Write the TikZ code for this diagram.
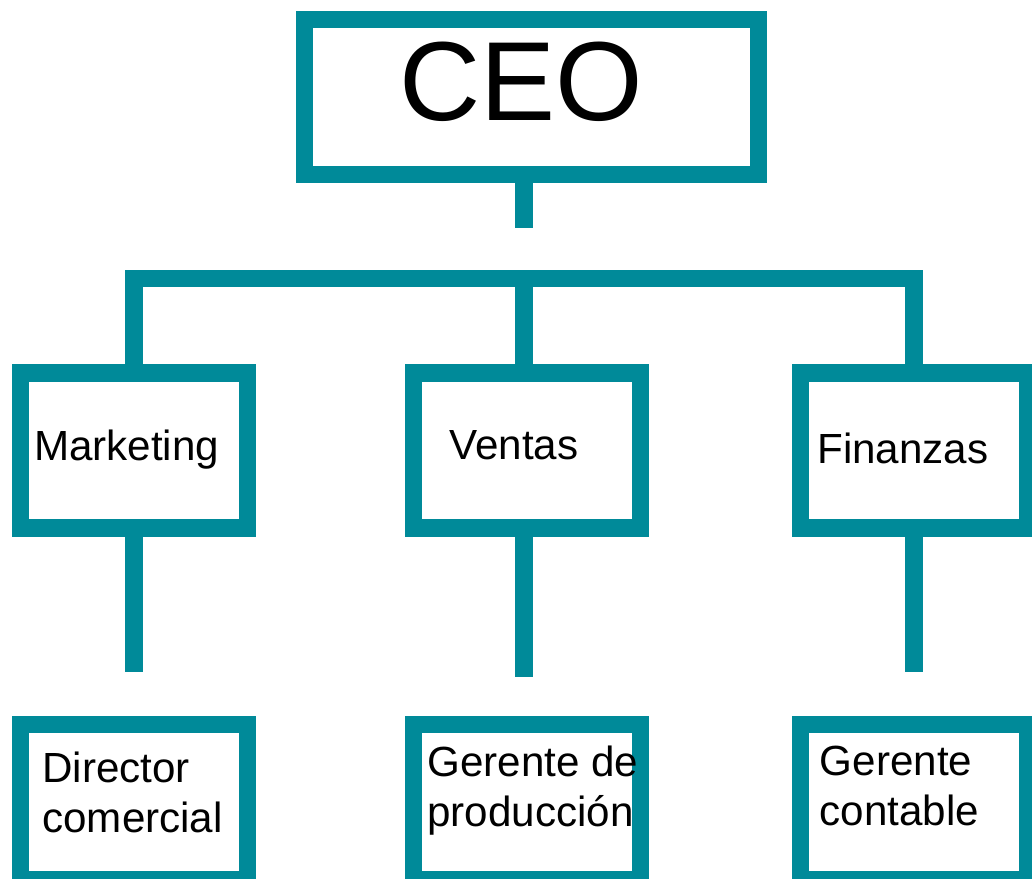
\documentclass[tikz,border=0pt]{standalone}
\usepackage{fontspec}
\setmainfont{Liberation Sans}
\usetikzlibrary{positioning,calc}
\definecolor{orgteal}{RGB}{0,138,153}

\tikzset{
	unit/.style={draw=orgteal, line width=0.35cm, minimum width=4.54cm, minimum height=3.1cm, inner sep=0pt},
	ceobox/.style={unit, minimum width=9.09cm},
	link/.style={draw=orgteal, line width=0.35cm},
	unittext/.style={font=\fontsize{24}{28.35}\selectfont, inner sep=0pt, anchor=base west, align=left}
}

\begin{document}
\begin{tikzpicture}[x=0.02cm, y=-0.02cm]
	\useasboundingbox (0,0) rectangle (1032,879);
	\clip (0,0) rectangle (1032,879);

	% ---------------------
	% Boxes
	\node[ceobox] (CEO) at (531.5,97.0) {};

	\node[unit] (Marketing) at (133.8,450.3) {};
	\node[unit] (Ventas)    at (527.0,450.3) {};
	\node[unit] (Finanzas)  at (914.0,450.3) {};

	\node[unit] (Director)   at (133.8,801.8) {};
	\node[unit] (Produccion) at (527.0,801.8) {};
	\node[unit] (Contable)   at (914.0,801.8) {};

	% ---------------------
	% Connectors
	\coordinate (CEOStub) at (524.0,227.7);
	\draw[link] (CEO.south -| CEOStub) -- (CEOStub);

	\coordinate (Bar) at (524.0,278.7);
	\draw[link] (Marketing.north) |- (Bar) -| (Finanzas.north);
	\draw[link] (Bar) -- (Ventas.north -| Bar);

	\coordinate (MarketingStub) at (133.8,671.7);
	\coordinate (VentasStub)    at (524.0,677.3);
	\coordinate (FinanzasStub)  at (914.0,671.7);
	\draw[link] (Marketing.south) -- (MarketingStub);
	\draw[link] (Ventas.south -| VentasStub) -- (VentasStub);
	\draw[link] (Finanzas.south) -- (FinanzasStub);

	% ---------------------
	% Texts (base = last line)
	\node[unittext, font=\fontsize{64}{77}\selectfont, anchor=base] (CEOText) at (521.5,120.0) {CEO};

	\node[unittext] (MarketingText) at (33.7,460.0) {Marketing};
	\node[unittext] (VentasText)    at (449.0,459.3) {Ventas};
	\node[unittext] (FinanzasText)  at (817.0,463.3) {Finanzas};

	\node[unittext] (DirectorText)   at (42.0,832.7)  {Director\\comercial};
	\node[unittext] (ProduccionText) at (427.0,826.7) {Gerente de\\producción};
	\node[unittext] (ContableText)   at (819.5,825.7) {Gerente\\contable};

\end{tikzpicture}
\end{document}
